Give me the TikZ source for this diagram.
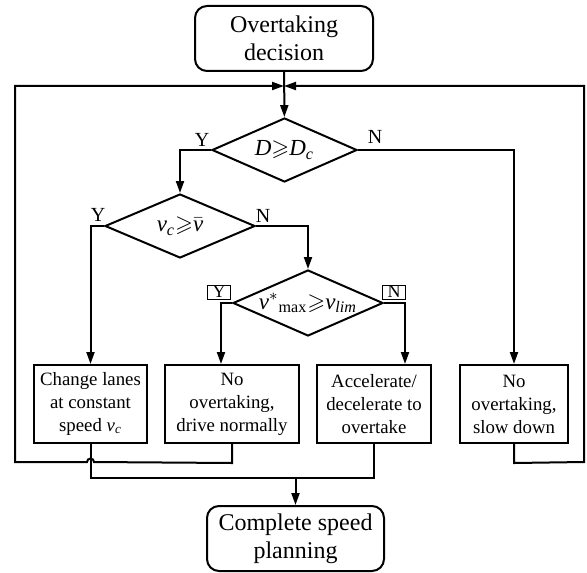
\documentclass[tikz,border=0pt]{standalone}
\usepackage{amssymb}
\usepackage{fontspec}
\setmainfont{Liberation Serif}
\usetikzlibrary{arrows.meta, positioning, shapes.geometric}

\begin{document}
\begin{tikzpicture}[
    x=0.5pt, y=0.5pt,
    line width=1pt,
    terminal/.style={draw, rounded corners=6pt, align=center, inner sep=0pt,
        minimum width=89pt, minimum height=32.5pt, font=\fontsize{12}{14}\selectfont},
    decision/.style={draw, diamond, aspect=2.3, inner sep=0pt,
        minimum width=75pt, minimum height=32pt, font=\fontsize{11.5}{13}\selectfont},
    process/.style={draw, align=center, inner sep=0pt, minimum height=39pt,
        font=\fontsize{9.4}{11.5}\selectfont},
    yn/.style={inner sep=0pt, font=\fontsize{10}{12}\selectfont},
    ynbox/.style={draw, line width=0.4pt, inner xsep=2.5pt, inner ysep=0.6pt,
        font=\fontsize{9}{10}\selectfont},
    line/.style={line width=1pt},
    arrow/.style={line, -{Triangle[length=6pt, width=4pt]}}
]
    \useasboundingbox (0,0) rectangle (587,-572);

    \node (start) [terminal] at (284,-38.5) {Overtaking\\decision};
    \node (dc) [decision, minimum width=72.5pt] at (284.5,-150)
        {$\mathit{D}{\geqslant}\mathit{D}_{\mathit{c}}$};
    \node (vc) [decision] at (180,-226)
        {$\mathit{v}_{\mathit{c}}{\geqslant}\bar{\mathit{v}}$};
    \node (vmax) [decision, minimum height=33pt] at (308,-303)
        {$\mathit{v}^{*}{}_{\mathrm{max}}{\geqslant}\mathit{v}_{\mathit{lim}}$};

    \node (lanes) [process, minimum width=56.5pt] at (90.5,-404)
        {Change lanes\\at constant\\speed $\mathit{v}_{\mathit{c}}$};
    \node (normal) [process, minimum width=67pt, right=8pt of lanes]
        {No\\overtaking,\\drive normally};
    \node (accel) [process, minimum width=57pt, right=8pt of normal]
        {Accelerate/\\decelerate to\\overtake};
    \node (slow) [process, minimum width=54pt, right=13.5pt of accel]
        {No\\overtaking,\\slow down};
    \node (plan) [terminal, minimum width=88.5pt] at (295.5,-538.5)
        {Complete speed\\planning};

    \node (y1) [yn] at (202,-140) {Y};
    \node (n1) [yn] at (375,-137) {N};
    \node (y2) [yn] at (98,-215) {Y};
    \node (n2) [yn] at (263,-216) {N};
    \node (y3) [ynbox] at (219,-292) {Y};
    \node (n3) [ynbox] at (394,-292) {N};

    \coordinate (join) at (284,-86);
    \coordinate (merge) at (295.5,-477);

    \draw [arrow] (start) -- (dc);
    \draw [arrow] (dc.west) -| (vc.north);
    \draw [arrow] (dc.east) -| (slow.north);
    \draw [arrow] (vc.west) -| (lanes.north);
    \draw [arrow] (vc.east) -| (vmax.north);
    \draw [arrow] (vmax.west) -| ([xshift=-5.5pt]normal.north);
    \draw [arrow] (vmax.east) -| ([xshift=15.5pt]accel.north);

    % back to the decision
    \draw [arrow] (normal.south) -- ++(0,-19) -- (94,-462)
        arc[start angle=0, end angle=180, radius=3.5] -- (15,-462) |- (join);
    \draw [arrow] (slow.south) -- ++(0,-19) -- (584,-462) |- (join);

    \draw [line] (lanes.south) -- ++(0,-34) -| (accel.south);
    \draw [arrow] (merge) -- (plan);
\end{tikzpicture}
\end{document}
